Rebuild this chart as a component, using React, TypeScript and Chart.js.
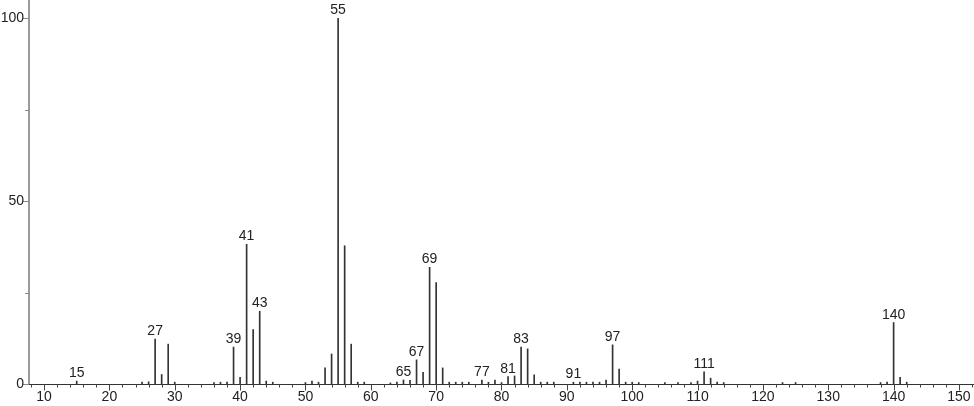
import React, { useEffect, useRef } from "react";
import { Chart, registerables } from "chart.js";

Chart.register(...registerables);

const mzValues = [15, 25, 26, 27, 28, 29, 30, 36, 37, 38, 39, 40, 41, 42, 43, 44, 45, 50, 51, 52, 53, 54, 55, 56, 57, 58, 59, 63, 64, 65, 66, 67, 68, 69, 70, 71, 72, 73, 74, 75, 77, 78, 79, 80, 81, 82, 83, 84, 85, 86, 87, 88, 91, 92, 93, 94, 95, 96, 97, 98, 99, 100, 101, 105, 107, 109, 110, 111, 112, 113, 114, 123, 125, 138, 139, 140, 141, 142];
const intensities = [0.8, 0.5, 0.6, 12.3, 2.6, 10.9, 0.5, 0.4, 0.5, 0.5, 10.1, 1.8, 38.2, 14.9, 19.9, 0.8, 0.5, 0.4, 0.8, 0.5, 4.4, 8.2, 100, 37.8, 10.9, 0.5, 0.5, 0.3, 0.5, 1.1, 1.0, 6.6, 3.2, 31.9, 27.7, 4.4, 0.5, 0.5, 0.5, 0.5, 1.1, 0.5, 1.1, 0.4, 2.0, 2.2, 10.1, 9.6, 2.5, 0.5, 0.5, 0.5, 0.5, 0.5, 0.5, 0.5, 0.5, 1.1, 10.7, 4.1, 0.5, 0.5, 0.4, 0.4, 0.4, 0.4, 0.8, 3.3, 1.6, 0.5, 0.4, 0.4, 0.4, 0.4, 0.5, 16.8, 1.8, 0.5];
const labeledPeaks = [15, 27, 39, 41, 43, 55, 65, 67, 69, 77, 81, 83, 91, 97, 111, 140];
const xMajorTicks = [10, 20, 30, 40, 50, 60, 70, 80, 90, 100, 110, 120, 130, 140, 150];
const yMajorTicks = [0, 50, 100];
const yMinorTicks = [25, 75];

const FONT = "14px 'Liberation Sans', Arial, sans-serif";

const axesPlugin = {
  id: "msAxes",
  afterDatasetsDraw(chart: any) {
    const ctx = chart.ctx;
    const xs = chart.scales.x;
    const ys = chart.scales.y;
    const area = chart.chartArea;
    ctx.save();
    ctx.strokeStyle = "#9a9a9a";
    ctx.lineWidth = 2;
    ctx.beginPath();
    ctx.moveTo(area.left, 0);
    ctx.lineTo(area.left, area.bottom + 1);
    ctx.stroke();
    const y0 = Math.round(ys.getPixelForValue(0)) + 0.5;
    ctx.strokeStyle = "#333";
    ctx.lineWidth = 1;
    ctx.beginPath();
    ctx.moveTo(area.left, y0);
    ctx.lineTo(area.right, y0);
    ctx.stroke();
    ctx.strokeStyle = "#444";
    ctx.beginPath();
    for (let v = 8; v <= 152; v += 2) {
      const px = Math.round(xs.getPixelForValue(v)) + 0.5;
      const len = v % 10 === 0 ? 6 : 3;
      ctx.moveTo(px, y0);
      ctx.lineTo(px, y0 + len);
    }
    ctx.stroke();
    ctx.strokeStyle = "#888";
    ctx.beginPath();
    for (const v of yMajorTicks) {
      const py = Math.round(ys.getPixelForValue(v)) + 0.5;
      ctx.moveTo(area.left - 6, py);
      ctx.lineTo(area.left, py);
    }
    for (const v of yMinorTicks) {
      const py = Math.round(ys.getPixelForValue(v)) + 0.5;
      ctx.moveTo(area.left - 4, py);
      ctx.lineTo(area.left, py);
    }
    ctx.stroke();
    ctx.fillStyle = "#222";
    ctx.font = FONT;
    ctx.textAlign = "center";
    ctx.textBaseline = "middle";
    for (const v of xMajorTicks) {
      ctx.fillText(String(v), xs.getPixelForValue(v), y0 + 13);
    }
    ctx.textAlign = "right";
    for (const v of yMajorTicks) {
      ctx.fillText(String(v), area.left - 5, ys.getPixelForValue(v));
    }
    ctx.textAlign = "center";
    ctx.textBaseline = "alphabetic";
    for (const mz of labeledPeaks) {
      const i = mzValues.indexOf(mz);
      if (i < 0) continue;
      const px = xs.getPixelForValue(mz);
      const py = ys.getPixelForValue(intensities[i]);
      ctx.fillText(String(mz), px, py - 4);
    }
    ctx.restore();
  },
};

export default function App() {
  const ref = useRef<HTMLCanvasElement | null>(null);
  useEffect(() => {
    document.body.style.margin = "0";
    if (!ref.current) return;
    const chart = new Chart(ref.current, {
      type: "bar",
      data: {
        datasets: [
          {
            data: mzValues.map((x, i) => ({ x, y: intensities[i] })),
            backgroundColor: "#333",
            borderWidth: 0,
            barThickness: 1,
            grouped: false,
          } as any,
        ],
      },
      options: {
        animation: false,
        responsive: false,
        events: [],
        layout: { padding: { left: 29, right: 0, top: 0, bottom: 22 } },
        plugins: { legend: { display: false }, tooltip: { enabled: false } },
        scales: {
          x: { type: "linear", min: 7.7, max: 152.3, offset: false, display: false, grid: { offset: false } },
          y: { type: "linear", min: 0, max: 105, display: false },
        },
      },
      plugins: [axesPlugin],
    });
    return () => chart.destroy();
  }, []);
  return (
    <div style={{ position: "absolute", left: 0, top: 0, width: 974, height: 406, background: "#fff" }}>
      <canvas ref={ref} width={974} height={406} />
    </div>
  );
}
